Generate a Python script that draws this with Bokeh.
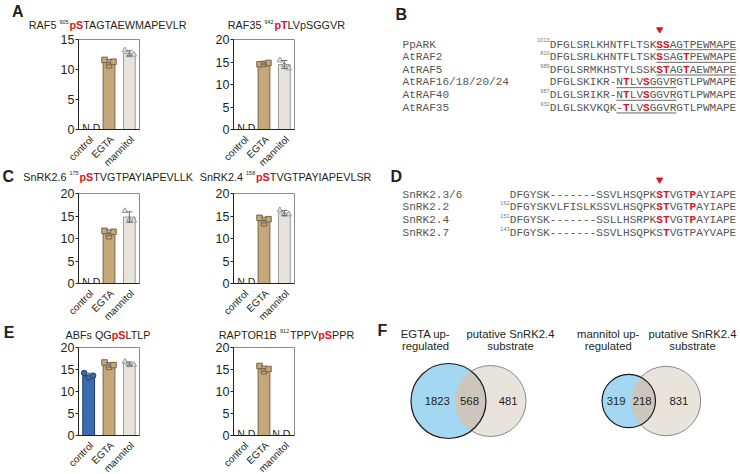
import numpy as np
from math import pi, atan2, sqrt
from bokeh.plotting import figure
from bokeh.models import FactorRange, Range1d, ColumnDataSource, Whisker, FixedTicker, TeeHead
from bokeh.layouts import column, row
from bokeh.transform import dodge
from bokeh.core.properties import value
from bokeh.embed import file_html
from bokeh.resources import INLINE

# ---------------- data ----------------
categories = ["control", "EGTA", "mannitol"]

raf5_control = []
raf5_egta = [11.6, 10.7, 11.3]
raf5_mannitol = [13.2, 12.4, 12.5]

raf35_control = []
raf35_egta = [14.5, 14.6, 14.8]
raf35_mannitol = [15.4, 14.3, 13.6]

snrk26_control = []
snrk26_egta = [11.7, 10.5, 11.5]
snrk26_mannitol = [16.1, 14.2, 14.0]

snrk24_control = []
snrk24_egta = [14.6, 13.4, 14.3]
snrk24_mannitol = [16.3, 15.3, 15.4]

abfs_control = [14.2, 13.2, 13.6]
abfs_egta = [16.6, 15.6, 16.0]
abfs_mannitol = [16.8, 16.0, 16.1]

raptor_control = []
raptor_egta = [15.8, 14.6, 15.1]
raptor_mannitol = []

y_ticks_15 = [0, 5, 10, 15]
y_ticks_20 = [0, 5, 10, 15, 20]

b_names = ["PpARK", "AtRAF2", "AtRAF5", "AtRAF16/18/20/24", "AtRAF40", "AtRAF35"]
b_starts = ["1013", "810", "989", "", "987", "932"]
b_seqs = ["DFGLSRLKHNTFLTSKSSAGTPEWMAPE",
          "DFGLSRLKHNTFLTSKSSAGTPEWMAPE",
          "DFGLSRMKHSTYLSSKSTAGTAEWMAPE",
          "DFGLSKIKR-NTLVSGGVRGTLPWMAPE",
          "DLGLSRIKR-NTLVSGGVRGTLPWMAPE",
          "DLGLSKVKQK-TLVSGGVRGTLPWMAPE"]
b_red = [[16, 17], [16, 20], [16, 17, 20], [11, 14], [11, 14], [11, 14]]
b_under = [(16, 27), (16, 27), (16, 27), (10, 18), (10, 18), (10, 18)]
b_site = 16

d_names = ["SnRK2.3/6", "SnRK2.2", "SnRK2.4", "SnRK2.7"]
d_starts = ["", "162", "151", "143"]
d_seqs = ["DFGYSK-------SSVLHSQPKSTVGTPAYIAPE",
          "DFGYSKVLFISLKSSVLHSQPKSTVGTPAYIAPE",
          "DFGYSK-------SSLLHSRPKSTVGTPAYIAPE",
          "DFGYSK-------SSVLHSQPKSTVGTPAYVAPE"]
d_red = [[22, 23, 27], [22, 23, 27], [22, 23, 27], [23]]
d_site = 22

venn1_sets = ["EGTA up-\nregulated", "putative SnRK2.4\nsubstrate"]
venn1_counts = [1823, 568, 481]
venn2_sets = ["mannitol up-\nregulated", "putative SnRK2.4\nsubstrate"]
venn2_counts = [319, 218, 831]

# ---------------- style ----------------
TXT = "#231f20"
RED = "#e3121b"
GRAY = "#565656"
FILL = {"control": "#3a6cb4", "EGTA": "#c4a87b", "mannitol": "#e8e4dd"}
EDGE = {"control": "#1b3a6a", "EGTA": "#7a6342", "mannitol": "#9a9a9a"}
MARK = {"control": "circle", "EGTA": "square", "mannitol": "triangle"}
JIT = [-0.22, 0.0, 0.22]
SANS = "Liberation Sans"
MONO = "Liberation Mono"
TITLE_SIZE = 10.8
SUP_SIZE = 5.5
MONO_SIZE = 11.1
CW = 0.6 * MONO_SIZE
LEFT_FRAMES = [(78, 139), (233, 294)]
CAT_SIZE = 10.0

AW = dict(zip("ABCDEFGHIJKLMNOPQRSTUVWXYZ",
              [667, 667, 722, 722, 667, 611, 778, 722, 278, 500, 667, 556, 833, 722, 778, 667, 778, 722, 667, 611, 722, 667, 944, 667, 667, 611]))
AW.update(dict(zip("abcdefghijklmnopqrstuvwxyz",
                   [556, 556, 500, 556, 556, 278, 556, 556, 222, 222, 500, 222, 833, 556, 556, 556, 556, 333, 500, 278, 556, 500, 722, 500, 500, 500])))
AW.update({c: 556 for c in "0123456789"})
AW.update({" ": 278, ".": 278, "-": 333, "/": 278})
AWB = dict(AW)
AWB.update({"p": 611, "S": 667, "T": 611})


def text_w(s, size, bold=False):
    t = AWB if bold else AW
    return sum(t.get(c, 556) for c in s) * size / 1000.0


def canvas(region, overlap=0):
    x0, x1, y0, y1 = region
    p = figure(width=x1 - x0, height=y1 - y0, x_range=Range1d(x0, x1), y_range=Range1d(y1, y0),
               output_backend="svg", toolbar_location=None, x_axis_type=None, y_axis_type=None,
               min_border=0, min_border_left=0, min_border_right=0, min_border_top=0, min_border_bottom=0,
               margin=(-overlap, 0, 0, 0))
    p.outline_line_color = None
    p.background_fill_color = None
    p.border_fill_color = None
    p.grid.visible = False
    return p


def rich(p, runs, x, y):
    xs = {"n": [], "sup": [], "red": []}
    for txt, kind in runs:
        size = SUP_SIZE if kind == "sup" else TITLE_SIZE
        xs[kind].append((x, y - 3.3 if kind == "sup" else y, txt))
        x += text_w(txt, size, kind == "red") + (0.8 if kind == "sup" else 0)
    for kind, items in xs.items():
        if not items:
            continue
        p.text(x=[a for a, b, c in items], y=[b for a, b, c in items], text=[c for a, b, c in items],
               text_font=value(SANS),
               text_font_size=f"{SUP_SIZE if kind == 'sup' else TITLE_SIZE}px",
               text_color=RED if kind == "red" else TXT,
               text_font_style="bold" if kind == "red" else "normal",
               text_baseline="middle", text_align="left")


def letter(p, ch, x, y):
    p.text(x=[x], y=[y], text=[ch], text_font=value(SANS), text_font_size="16px", text_font_style="bold",
           text_color=TXT, text_baseline="middle", text_align="left")


def cat_labels(p, top):
    # category tick labels, rotated 45 degrees, under each category of the two charts above
    xs, ys, ts = [], [], []
    for fl, fr in LEFT_FRAMES:
        for i, c in enumerate(categories):
            xs.append(fl + (i + 0.5) * (fr - fl) / len(categories) + 3)
            ys.append(top + 4.1)
            ts.append(c)
    p.text(x=xs, y=ys, text=ts, angle=pi / 4, text_font=value(SANS), text_font_size=f"{CAT_SIZE}px",
           text_color=TXT, text_align="right", text_baseline="middle")


def bar_panel(region, frame, ymax, ticks, reps):
    x0, x1, y0, y1 = region
    fl, fr, ft, fb = frame
    p = figure(width=x1 - x0, height=y1 - y0, x_range=FactorRange(*categories), y_range=Range1d(0, ymax),
               output_backend="svg", toolbar_location=None,
               min_border_left=fl - x0, min_border_right=x1 - fr, min_border_top=ft - y0, min_border_bottom=y1 - fb)
    p.x_range.range_padding = 0
    p.grid.visible = False
    p.outline_line_color = "#8c8c8c"
    p.outline_line_width = 1
    p.border_fill_color = None
    p.background_fill_color = None

    xa = p.xaxis[0]
    xa.ticker = FixedTicker(ticks=[])
    xa.major_tick_line_color = None
    xa.minor_tick_line_color = None
    xa.axis_line_color = "#222222"

    ya = p.yaxis[0]
    ya.ticker = FixedTicker(ticks=ticks)
    ya.major_label_text_font = SANS
    ya.major_label_text_font_size = "12.5px"
    ya.major_label_text_color = TXT
    ya.major_label_standoff = 1
    ya.major_tick_out = 3
    ya.major_tick_in = 0
    ya.minor_tick_line_color = None
    ya.axis_line_color = "#222222"
    ya.major_tick_line_color = "#222222"

    present = [c for c in categories if reps[c]]
    missing = [c for c in categories if not reps[c]]

    if missing:
        nd = ColumnDataSource(dict(cat=missing, y=[ymax * 1.3 / (fb - ft)] * len(missing),
                                   t=["N.D."] * len(missing),
                                   xo=[4 if c == "control" else -1.5 for c in missing]))
        p.text(x="cat", y="y", text="t", x_offset="xo", source=nd, text_font=value(SANS),
               text_font_size="10.5px", text_color=TXT, text_align="center", text_baseline="alphabetic")

    means = [float(np.mean(reps[c])) for c in present]
    sds = [float(np.std(reps[c], ddof=1)) for c in present]
    src = ColumnDataSource(dict(cat=present, mean=means,
                                upper=[m + s for m, s in zip(means, sds)],
                                lower=[m - s for m, s in zip(means, sds)],
                                fill=[FILL[c] for c in present], edge=[EDGE[c] for c in present]))
    p.vbar(x="cat", top="mean", width=0.58, source=src, fill_color="fill", line_color="edge", line_width=1)
    w = Whisker(base="cat", upper="upper", lower="lower", source=src, line_color="#6a6a6a", line_width=1,
                upper_head=TeeHead(size=6, line_color="#6a6a6a", line_width=1),
                lower_head=TeeHead(size=6, line_color="#6a6a6a", line_width=1))
    w.level = "annotation"
    p.add_layout(w)
    for j, off in enumerate(JIT):
        s = ColumnDataSource(dict(cat=present, v=[reps[c][j] for c in present],
                                  m=[MARK[c] for c in present],
                                  fill=[FILL[c] for c in present], edge=[EDGE[c] for c in present]))
        p.scatter(x=dodge("cat", off, range=p.x_range), y="v", marker="m", size=5.5, source=s,
                  fill_color="fill", line_color="edge", line_width=1)
    return p


def alignment(p, names, starts, seqs, reds, unders, name_x, seq_x, y_first, dy, site, site_y):
    ys = [y_first + i * dy for i in range(len(names))]
    p.text(x=[name_x] * len(names), y=ys, text=names, text_font=value(MONO), text_font_size=f"{MONO_SIZE}px",
           text_color=GRAY, text_baseline="middle")
    st = [(s, y) for s, y in zip(starts, ys) if s]
    p.text(x=[seq_x - 0.3] * len(st), y=[y - 4.2 for _, y in st], text=[s for s, _ in st],
           text_font=value(SANS), text_font_size="5.5px", text_color="#777777",
           text_align="right", text_baseline="middle")
    gx, gy, gt, rx, ry, rt = [], [], [], [], [], []
    for seq, red, y in zip(seqs, reds, ys):
        i = 0
        while i < len(seq):
            isr = i in red
            j = i
            while j < len(seq) and ((j in red) == isr):
                j += 1
            if isr:
                rx.append(seq_x + i * CW); ry.append(y); rt.append(seq[i:j])
            else:
                gx.append(seq_x + i * CW); gy.append(y); gt.append(seq[i:j])
            i = j
    p.text(x=gx, y=gy, text=gt, text_font=value(MONO), text_font_size=f"{MONO_SIZE}px",
           text_color=GRAY, text_baseline="middle")
    p.text(x=rx, y=ry, text=rt, text_font=value(MONO), text_font_size=f"{MONO_SIZE}px",
           text_color=RED, text_font_style="bold", text_baseline="middle")
    if unders:
        p.segment(x0=[seq_x + a * CW for a, b in unders], x1=[seq_x + (b + 1) * CW for a, b in unders],
                  y0=[y + 5.2 for y in ys], y1=[y + 5.2 for y in ys], line_color="#6a6a6a", line_width=1)
    p.scatter(x=[seq_x + (site + 0.5) * CW], y=[site_y], marker="inverted_triangle", size=6,
              fill_color=RED, line_color=RED)


def venn(p, c1, r1, c2, r2, counts, count_xs, labels, label_xs, label_y):
    cy = c1[1]
    p.circle(x=[c2[0]], y=[cy], radius=r2, fill_color="#e8e4dc", line_color="#8a8a8a", line_width=1)
    p.circle(x=[c1[0]], y=[cy], radius=r1, fill_color="#a3d7f2", line_color=None)
    d = c2[0] - c1[0]
    a = (r1 ** 2 - r2 ** 2 + d ** 2) / (2 * d)
    h = sqrt(r1 ** 2 - a ** 2)
    t1 = atan2(h, a)
    t2 = atan2(h, d - a)
    ang1 = np.linspace(-t1, t1, 80)
    ang2 = np.linspace(pi - t2, pi + t2, 80)
    xs = list(c1[0] + r1 * np.cos(ang1)) + list(c2[0] + r2 * np.cos(ang2))
    ys = list(cy + r1 * np.sin(ang1)) + list(cy + r2 * np.sin(ang2))
    p.patch(x=xs, y=ys, fill_color="#cdc6bc", line_color=None)
    p.circle(x=[c1[0]], y=[cy], radius=r1, fill_color=None, line_color="#1a1a1a", line_width=1.2)
    p.text(x=count_xs, y=[cy] * len(counts), text=[str(c) for c in counts], text_font=value(SANS),
           text_font_size="11.3px", text_color=TXT, text_align="center", text_baseline="middle")
    lx, ly, lt = [], [], []
    for lab, x in zip(labels, label_xs):
        for k, line in enumerate(lab.split("\n")):
            lx.append(x); ly.append(label_y + k * 12.4); lt.append(line)
    p.text(x=lx, y=ly, text=lt, text_font=value(SANS), text_font_size="11.3px", text_color=TXT,
           text_align="center", text_baseline="middle")


# ---------------- left half: bar charts ----------------
TA = canvas((0, 375, 0, 31))
letter(TA, "A", 11.5, 11)
rich(TA, [("RAF5 ", "n"), ("905", "sup"), ("pS", "red"), ("TAGTAEWMAPEVLR", "n")], 28.3, 24.5)
rich(TA, [("RAF35 ", "n"), ("942", "sup"), ("pT", "red"), ("LVpSGGVR", "n")], 227.3, 24.5)

A1 = bar_panel((0, 197, 31, 137), (78, 139, 39, 129), 15, y_ticks_15,
               dict(zip(categories, [raf5_control, raf5_egta, raf5_mannitol])))
A2 = bar_panel((197, 375, 31, 137), (233, 294, 39, 129), 20, y_ticks_20,
               dict(zip(categories, [raf35_control, raf35_egta, raf35_mannitol])))

TC = canvas((0, 375, 133, 185), overlap=4)
cat_labels(TC, 133)
letter(TC, "C", 2, 175.5)
rich(TC, [("SnRK2.6 ", "n"), ("175", "sup"), ("pS", "red"), ("TVGTPAYIAPEVLLK", "n")], 22.7, 176)
rich(TC, [("SnRK2.4 ", "n"), ("158", "sup"), ("pS", "red"), ("TVGTPAYIAPEVLSR", "n")], 199.3, 176)

C1 = bar_panel((0, 197, 185, 291), (78, 139, 193, 283), 20, y_ticks_20,
               dict(zip(categories, [snrk26_control, snrk26_egta, snrk26_mannitol])))
C2 = bar_panel((197, 375, 185, 291), (233, 294, 193, 283), 20, y_ticks_20,
               dict(zip(categories, [snrk24_control, snrk24_egta, snrk24_mannitol])))

TE = canvas((0, 375, 287, 341), overlap=4)
cat_labels(TE, 287)
letter(TE, "E", 3.3, 331.5)
rich(TE, [("ABFs QG", "n"), ("pS", "red"), ("LTLP", "n")], 65, 334)
rich(TE, [("RAPTOR1B ", "n"), ("912", "sup"), ("TPPV", "n"), ("pS", "red"), ("PPR", "n")], 218.3, 334)

E1 = bar_panel((0, 197, 339, 443), (78, 139, 347, 435), 20, y_ticks_20,
               dict(zip(categories, [abfs_control, abfs_egta, abfs_mannitol])))
E2 = bar_panel((197, 375, 339, 443), (233, 294, 347, 435), 20, y_ticks_20,
               dict(zip(categories, [raptor_control, raptor_egta, raptor_mannitol])))

TB = canvas((0, 375, 439, 474), overlap=4)
cat_labels(TB, 439)

# ---------------- right half ----------------
B = canvas((375, 740, 0, 167))
alignment(B, b_names, b_starts, b_seqs, b_red, b_under, 402, 549.3, 44, 12.65, b_site, 29)
letter(B, "B", 395, 13.5)

D = canvas((375, 740, 167, 323))
alignment(D, d_names, d_starts, d_seqs, d_red, None, 402, 509.3, 194.3, 12.67, d_site, 179.3)
letter(D, "D", 390, 175.5)

F = canvas((375, 740, 323, 474))
venn(F, (448, 400.5), 37.5, (490, 400.5), 35.5, venn1_counts, [436.7, 469, 507.7], venn1_sets, [425, 510], 333.3)
venn(F, (628.3, 400.5), 26.7, (665.5, 400.5), 34.7, venn2_counts, [615.7, 641.7, 678.3], venn2_sets, [607.7, 692], 333.3)
letter(F, "F", 377, 330)

left = column(TA, row(A1, A2), TC, row(C1, C2), TE, row(E1, E2, margin=(-2, 0, 0, 0)), TB)
right = column(B, D, F)
layout = row(left, right)
open("out.html", "w").write(file_html(layout, INLINE))
